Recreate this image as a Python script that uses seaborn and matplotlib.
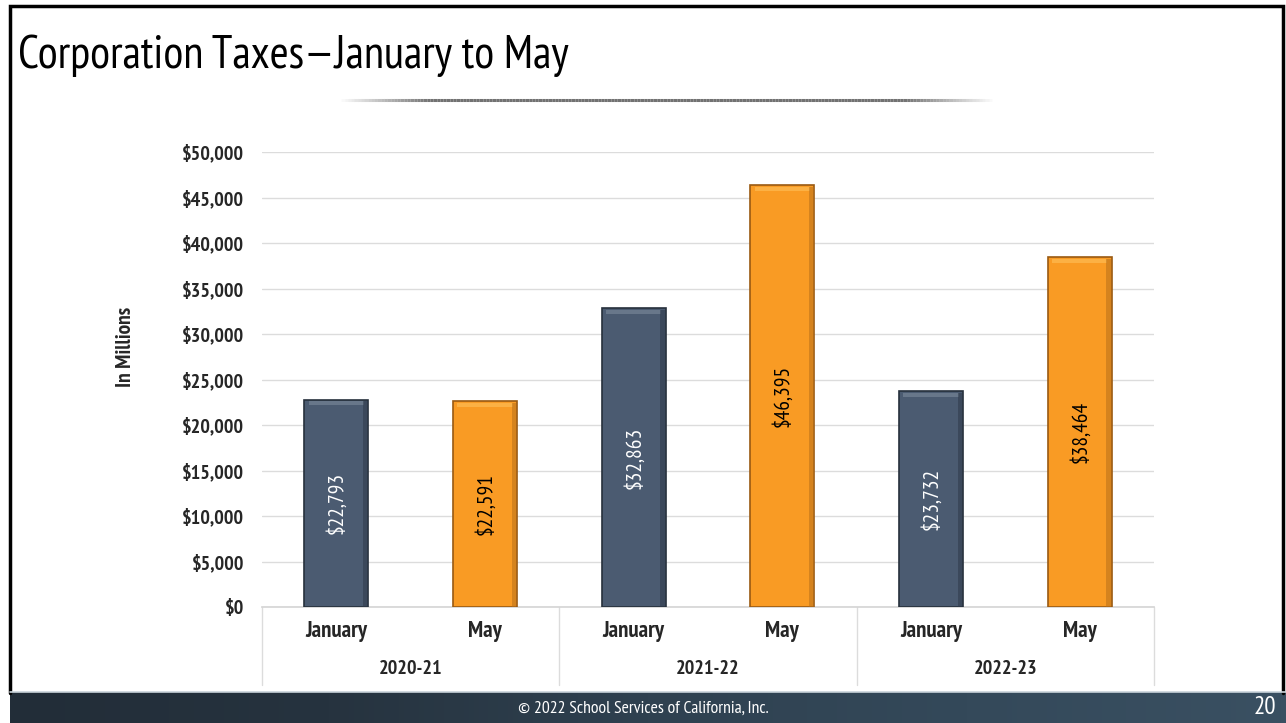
import numpy as np
import pandas as pd
import matplotlib
matplotlib.use("Agg")
import matplotlib.pyplot as plt
from matplotlib import font_manager
from matplotlib.patches import Rectangle
import seaborn as sns

# Corporation tax collections, in millions of dollars
years = ["2020-21", "2021-22", "2022-23"]
months = ["January", "May"]
january_values = [22793, 32863, 23732]
may_values = [22591, 46395, 38464]
y_ticks = [0, 5000, 10000, 15000, 20000, 25000, 30000, 35000, 40000, 45000, 50000]

rows = []
for yr, jan, may in zip(years, january_values, may_values):
    rows.append({"year": yr, "month": "January", "key": f"{yr} January", "value": jan})
    rows.append({"year": yr, "month": "May", "key": f"{yr} May", "value": may})
df = pd.DataFrame(rows)

sns.set_theme(style="white")
weights = {}
for f in font_manager.fontManager.ttflist:
    w = f.weight if isinstance(f.weight, int) else 400
    weights.setdefault(f.name, set()).add(w)
candidates = ["Liberation Sans Narrow", "Arial Narrow", "Archivo Narrow", "PT Sans Narrow",
              "Roboto Condensed", "IBM Plex Sans Condensed", "Liberation Sans"]
narrow = next((n for n in candidates if n in weights and max(weights[n]) >= 700),
              "Liberation Sans")
plt.rcParams["font.family"] = [narrow, "DejaVu Sans"]

W, H = 1286, 723
fig = plt.figure(figsize=(W / 100, H / 100), dpi=100)
fig.patch.set_facecolor("white")

def fx(px):
    return px / W

def fy(py):
    return 1 - py / H

# slide frame and footer band
bg = fig.add_axes([0, 0, 1, 1], zorder=-5)
bg.set_xlim(0, W)
bg.set_ylim(H, 0)
bg.axis("off")
bg.plot([10, 10, 1283, 1283], [693, 6, 6, 693], color="black", lw=2.5, solid_joinstyle="miter")
grad = np.linspace(0, 1, 256)[None, :]
footer_cmap = matplotlib.colors.LinearSegmentedColormap.from_list(
    "footer", ["#222d38", "#26333f", "#2f4150", "#34495a", "#3a5062"])
bg.imshow(grad, extent=[10, 1286, 723, 692], aspect="auto", cmap=footer_cmap, zorder=1)
bg.plot([10, 1286], [692, 692], color="#c9d3da", lw=1.2, zorder=2)
bg.text(643, 709, "\u00a9 2022 School Services of California, Inc.", color="white",
        fontsize=12.7, ha="center", va="center", zorder=3)
bg.text(1265, 708, "20", color="white", fontsize=18, ha="center", va="center", zorder=3)

# title and its decorative underline
bg.text(18, 56, "Corporation Taxes\u2014January to May", fontsize=33, color="black",
        ha="left", va="center")
xs = np.linspace(338, 992, 200)
fade = np.clip(np.minimum((xs - 338) / 90, (992 - xs) / 90), 0, 1)
for i in range(len(xs) - 1):
    bg.plot(xs[i:i + 2], [100, 100], color=(0.35, 0.35, 0.35, 0.85 * fade[i]), lw=2.2,
            solid_capstyle="butt")

# chart area
ax = fig.add_axes([fx(262), fy(607), fx(1154 - 262), fy(152) - fy(607)])
palette = {"January": "#4b5b71", "May": "#f99b24"}
edges = {"January": "#26303c", "May": "#9a5a12"}
sns.barplot(data=df, x="key", y="value", hue="month", palette=palette, dodge=False,
            width=0.43, ax=ax, legend=False, saturation=1, zorder=3)

ax.set_ylim(0, 50000)
ax.set_xlim(-0.5, len(df) - 0.5)
ax.set_yticks(y_ticks)
ax.set_yticklabels([f"${v:,}" for v in y_ticks], fontsize=14.5, fontweight="bold")
ax.tick_params(axis="y", length=0, pad=13)
ax.grid(axis="y", color="#dcdcdc", lw=1, zorder=0)
for s in ["top", "right", "left"]:
    ax.spines[s].set_visible(False)
ax.spines["bottom"].set_color("#d6d6d6")
ax.set_xlabel("")
ax.set_ylabel("In Millions", fontsize=15.5, fontweight="bold")
ax.yaxis.set_label_coords(-0.142, 0.571)

# month and year labels below the bars
ax.set_xticks(range(len(df)))
ax.set_xticklabels(df["month"], fontsize=16.5, fontweight="bold")
ax.tick_params(axis="x", length=0, pad=10)
for i, yr in enumerate(years):
    ax.text(2 * i + 0.5, -0.137, yr, transform=ax.get_xaxis_transform(),
            ha="center", va="center", fontsize=14.5, fontweight="bold")
for b in [-0.5, 1.5, 3.5, 5.5]:
    ax.plot([b, b], [0, -0.172], transform=ax.get_xaxis_transform(), color="#dcdcdc",
            lw=1, clip_on=False)

# bar styling, bevel shading and value labels (patches matched to rows by x position)
for patch in ax.patches[:]:
    x0, w, h = patch.get_x(), patch.get_width(), patch.get_height()
    row = df.iloc[int(round(x0 + w / 2))]
    is_jan = row["month"] == "January"
    patch.set_edgecolor(edges[row["month"]])
    patch.set_linewidth(1.2)
    hi = "#7d8a9c" if is_jan else "#ffc15a"
    shade = "#2e3a4a" if is_jan else "#b8701a"
    ax.add_patch(Rectangle((x0 + 0.03, h - 650), w - 0.06, 450, color=hi, alpha=0.6,
                           lw=0, zorder=4))
    ax.add_patch(Rectangle((x0 + w - 0.035, 0), 0.03, h - 200, color=shade, alpha=0.55,
                           lw=0, zorder=4))
    col = "white" if is_jan else "black"
    ax.text(x0 + w / 2, h / 2, f"${row['value']:,}", rotation=90, ha="center",
            va="center", fontsize=15.5, color=col, zorder=5)

fig.savefig("out.png", dpi=100)
